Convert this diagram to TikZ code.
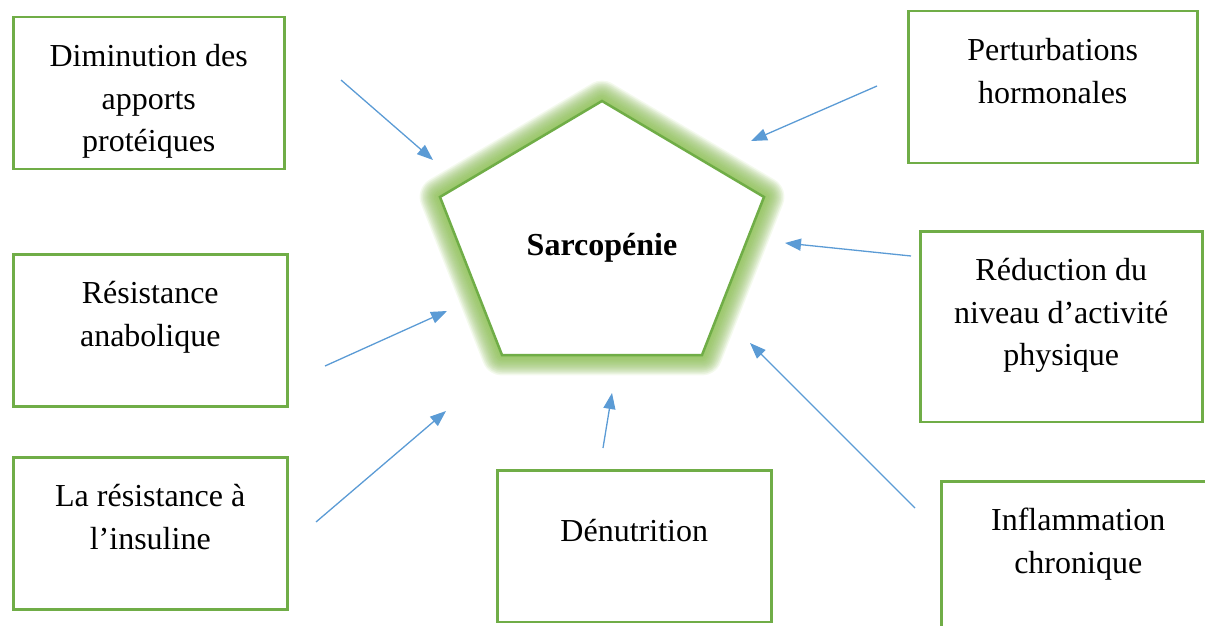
\documentclass[tikz,border=0pt]{standalone}
\usepackage{fontspec}
\setmainfont{Liberation Serif}
\usetikzlibrary{positioning,arrows.meta}
\definecolor{boxgreen}{RGB}{112,173,71}
\definecolor{glowgreen}{RGB}{146,208,80}
\definecolor{arrowblue}{RGB}{91,155,213}

\begin{document}
\begin{tikzpicture}[x=0.5pt,y=-0.5pt]
    \tikzset{factor/.style={draw=boxgreen,line width=1.25pt,rectangle,inner sep=0pt,anchor=north west}}
    \tikzset{factortext/.style={align=center,inner sep=0pt,font=\fontsize{16}{21.25}\selectfont}}
    \tikzset{cause/.style={draw=arrowblue,line width=0.65pt,-{Triangle[length=8pt,width=6pt]}}}
    \useasboundingbox (0,0) rectangle (1205,626);

    % centre
    \coordinate (ptop) at (602,101);
    \coordinate (pur) at (764,197);
    \coordinate (plr) at (702,355);
    \coordinate (pll) at (502,355);
    \coordinate (pul) at (440,197);
    \foreach \w in {1,...,12}
      \draw[black!75,opacity=0.035,line width=\w*1.6pt,line join=round,shift={(2,8)}]
        (ptop) -- (pur) -- (plr) -- (pll) -- (pul) -- cycle;
    \foreach \w in {1,...,12}
      \draw[glowgreen,opacity=0.1,line width=\w*1.7pt,line join=round]
        (ptop) -- (pur) -- (plr) -- (pll) -- (pul) -- cycle;
    \fill[white] (ptop) -- (pur) -- (plr) -- (pll) -- (pul) -- cycle;
    \draw[boxgreen,line width=1.25pt] (ptop) -- (pur) -- (plr) -- (pll) -- (pul) -- cycle;
    \node[font=\fontsize{16}{19}\selectfont\bfseries,anchor=base] (sarco) at (602,255) {Sarcopénie};

    % boxes
    \node[factor,minimum width=135.5pt,minimum height=76pt] (dim) at (12,16) {};
    \node[factor,minimum width=144.5pt,minimum height=76pt] (pert) at (907,10) {};
    \node[factor,minimum width=141pt,minimum height=95.25pt] (red) at (919,230) {};
    \node[factor,minimum width=137pt,minimum height=76pt] (infl) at (940,480) {};
    \node[factor,minimum width=137pt,minimum height=75.75pt] (denut) at (496,469) {};
    \node[factor,minimum width=137pt,minimum height=76pt] (res) at (12,253) {};
    \node[factor,minimum width=137pt,minimum height=76pt] (ins) at (12,456) {};

    \node[factortext,below=14pt of dim.north] (dimtext) {Diminution des\\apports\\protéiques};
    \node[factortext,below=14pt of pert.north] (perttext) {Perturbations\\hormonales};
    \node[factortext,below=14pt of red.north] (redtext) {Réduction du\\niveau d’activité\\physique};
    \node[factortext,below=14pt of infl.north] (infltext) {Inflammation\\chronique};
    \node[factortext,below=25pt of denut.north] (denuttext) {Dénutrition};
    \node[factortext,below=14pt of res.north] (restext) {Résistance\\anabolique};
    \node[factortext,below=14pt of ins.north] (instext) {La résistance à\\l’insuline};

    % arrows
    \coordinate (dimtail) at (341,80);   \coordinate (dimtip) at (433,160);
    \coordinate (perttail) at (877,86);  \coordinate (perttip) at (751,141);
    \coordinate (redtail) at (911,256);  \coordinate (redtip) at (785,243);
    \coordinate (infltail) at (915,508); \coordinate (infltip) at (750,343);
    \coordinate (denuttail) at (603,448); \coordinate (denuttip) at (612,393);
    \coordinate (restail) at (325,366);  \coordinate (restip) at (447,311);
    \coordinate (instail) at (316,522);  \coordinate (instip) at (446,411);
    \foreach \f in {dim,pert,red,infl,denut,res,ins}
      \draw[cause] (\f tail) -- (\f tip);
\end{tikzpicture}
\end{document}
